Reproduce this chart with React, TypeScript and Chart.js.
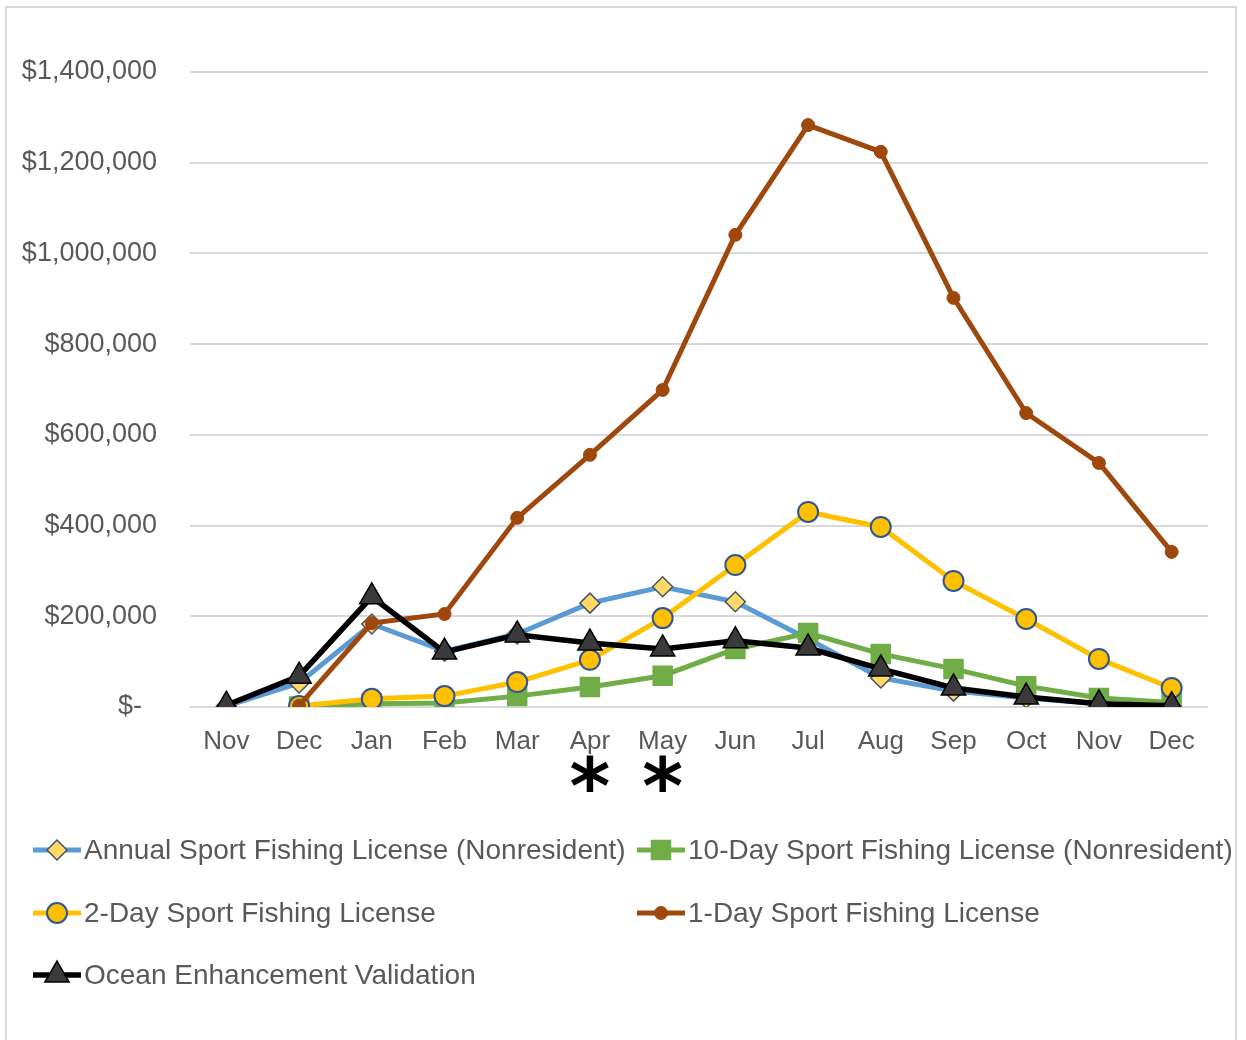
import React, { useEffect, useRef } from "react";
import { Chart, registerables } from "chart.js";

Chart.register(...registerables);

const MONTHS = ["Nov", "Dec", "Jan", "Feb", "Mar", "Apr", "May", "Jun", "Jul", "Aug", "Sep", "Oct", "Nov", "Dec"];

const ANNUAL_NONRES = [2000, 53000, 183000, 123000, 161000, 229000, 265000, 232000, 150000, 64000, 35000, 20000, 7000, 3000];
const TEN_DAY_NONRES = [null, 1000, 7000, 9000, 24000, 44000, 69000, 128000, 163000, 117000, 84000, 46000, 20000, 10000];
const TWO_DAY = [null, 2000, 18000, 24000, 55000, 104000, 196000, 313000, 430000, 397000, 278000, 194000, 106000, 42000];
const ONE_DAY = [null, 3000, 185000, 205000, 417000, 556000, 699000, 1041000, 1283000, 1224000, 902000, 648000, 538000, 342000];
const OCEAN_VALIDATION = [4000, 68000, 243000, 121000, 159000, 141000, 128000, 146000, 130000, 84000, 42000, 22000, 7000, 3000];

const Y_TICKS = [0, 200000, 400000, 600000, 800000, 1000000, 1200000, 1400000];
const STARRED_MONTHS = [5, 6];

const FONT = '"Liberation Sans", Arial, sans-serif';
const TEXT_COLOR = "#595959";

function drawMarker(ctx: CanvasRenderingContext2D, ds: any, x: number, y: number) {
  const r = ds.pointRadius;
  ctx.save();
  ctx.fillStyle = ds.pointBackgroundColor;
  ctx.strokeStyle = ds.pointBorderColor;
  ctx.lineWidth = ds.pointBorderWidth;
  ctx.beginPath();
  const s = ds.pointStyle;
  if (s === "circle") {
    ctx.arc(x, y, r, 0, Math.PI * 2);
  } else if (s === "rectRot") {
    ctx.moveTo(x, y - r);
    ctx.lineTo(x + r, y);
    ctx.lineTo(x, y + r);
    ctx.lineTo(x - r, y);
  } else if (s === "rect") {
    const h = r / Math.SQRT2;
    ctx.rect(x - h, y - h, 2 * h, 2 * h);
  } else if (s === "triangle") {
    ctx.moveTo(x, y - r);
    ctx.lineTo(x + r * Math.sin(Math.PI / 3), y + r / 2);
    ctx.lineTo(x - r * Math.sin(Math.PI / 3), y + r / 2);
  }
  ctx.closePath();
  ctx.fill();
  if (ds.pointBorderWidth > 0) ctx.stroke();
  ctx.restore();
}

const customPlugin = {
  id: "customLegendAndStars",
  afterDraw(chart: any) {
    const ctx: CanvasRenderingContext2D = chart.ctx;
    const xs = chart.scales.x;
    ctx.save();
    // asterisks under Apr and May
    ctx.fillStyle = "#000000";
    ctx.font = 'bold 78px "DejaVu Sans", sans-serif';
    ctx.textAlign = "center";
    ctx.textBaseline = "alphabetic";
    STARRED_MONTHS.forEach((i) => {
      ctx.fillText("*", xs.getPixelForValue(i), 814);
    });
    // legend
    const cols = [33, 637];
    const rows = [850, 913, 975];
    ctx.font = "28px " + FONT;
    ctx.textAlign = "left";
    ctx.textBaseline = "middle";
    chart.data.datasets.forEach((ds: any, i: number) => {
      const x0 = cols[i % 2];
      const y = rows[Math.floor(i / 2)];
      ctx.strokeStyle = ds.borderColor;
      ctx.lineWidth = ds.borderWidth;
      ctx.beginPath();
      ctx.moveTo(x0, y);
      ctx.lineTo(x0 + 48, y);
      ctx.stroke();
      drawMarker(ctx, ds, x0 + 24, y);
      ctx.fillStyle = TEXT_COLOR;
      ctx.fillText(ds.label, x0 + 51, y + 1);
    });
    ctx.restore();
  },
};

export default function App() {
  const ref = useRef<HTMLCanvasElement>(null);
  useEffect(() => {
    const canvas = ref.current!;
    const chart = new Chart(canvas, {
      type: "line",
      data: {
        labels: MONTHS,
        datasets: [
          {
            label: "Annual Sport Fishing License (Nonresident)",
            data: ANNUAL_NONRES,
            borderColor: "#5B9BD5",
            backgroundColor: "#5B9BD5",
            borderWidth: 5,
            pointStyle: "rectRot",
            pointRadius: 10,
            pointBackgroundColor: "#FFD966",
            pointBorderColor: "#44546A",
            pointBorderWidth: 1.5,
            order: 5,
          },
          {
            label: "10-Day Sport Fishing License (Nonresident)",
            data: TEN_DAY_NONRES,
            borderColor: "#70AD47",
            backgroundColor: "#70AD47",
            borderWidth: 5,
            pointStyle: "rect",
            pointRadius: 14.5,
            pointBackgroundColor: "#70AD47",
            pointBorderColor: "#70AD47",
            pointBorderWidth: 0,
            order: 4,
          },
          {
            label: "2-Day Sport Fishing License",
            data: TWO_DAY,
            borderColor: "#FFC000",
            backgroundColor: "#FFC000",
            borderWidth: 5,
            pointStyle: "circle",
            pointRadius: 10,
            pointBackgroundColor: "#FFC000",
            pointBorderColor: "#2F5597",
            pointBorderWidth: 2,
            order: 3,
          },
          {
            label: "1-Day Sport Fishing License",
            data: ONE_DAY,
            borderColor: "#9E480E",
            backgroundColor: "#9E480E",
            borderWidth: 5,
            pointStyle: "circle",
            pointRadius: 6.5,
            pointBackgroundColor: "#9E480E",
            pointBorderColor: "#9E480E",
            pointBorderWidth: 1,
            order: 2,
          },
          {
            label: "Ocean Enhancement Validation",
            data: OCEAN_VALIDATION,
            borderColor: "#000000",
            backgroundColor: "#000000",
            borderWidth: 5.5,
            pointStyle: "triangle",
            pointRadius: 14,
            pointBackgroundColor: "#3A3A3A",
            pointBorderColor: "#000000",
            pointBorderWidth: 1.5,
            order: 1,
          },
        ] as any,
      },
      options: {
        responsive: false,
        animation: false,
        devicePixelRatio: 1,
        layout: { padding: { left: 0, top: 72, right: 38, bottom: 273 } },
        plugins: { legend: { display: false }, tooltip: { enabled: false } },
        elements: { line: { tension: 0 } },
        scales: {
          x: {
            offset: true,
            grid: { display: false, drawTicks: false },
            border: { display: false },
            ticks: {
              color: TEXT_COLOR,
              font: { family: FONT, size: 26 },
              padding: 19,
              maxRotation: 0,
              autoSkip: false,
            },
            afterFit: (s: any) => {
              s.height = 60;
            },
          },
          y: {
            min: 0,
            max: 1400000,
            afterBuildTicks: (s: any) => {
              s.ticks = Y_TICKS.map((v) => ({ value: v }));
            },
            grid: { color: "#D9D9D9", lineWidth: 2, drawTicks: false },
            border: { display: false },
            ticks: {
              color: TEXT_COLOR,
              font: { family: FONT, size: 27 },
              padding: 33,
              callback: (v: any) => (Number(v) === 0 ? "$-  " : "$" + Number(v).toLocaleString("en-US")),
            },
            afterFit: (s: any) => {
              s.width = 190;
            },
          },
        },
      },
      plugins: [customPlugin],
    });
    return () => chart.destroy();
  }, []);

  return (
    <div style={{ position: "absolute", left: 0, top: 0, width: 1246, height: 1040, background: "#fff", overflow: "hidden" }}>
      <div
        style={{
          position: "absolute",
          left: 5,
          top: 6,
          width: 1232,
          height: 1034,
          boxSizing: "border-box",
          border: "2px solid #D9D9D9",
          borderBottom: "none",
        }}
      />
      <canvas ref={ref} width={1246} height={1040} style={{ position: "absolute", left: 0, top: 0, width: 1246, height: 1040 }} />
    </div>
  );
}
